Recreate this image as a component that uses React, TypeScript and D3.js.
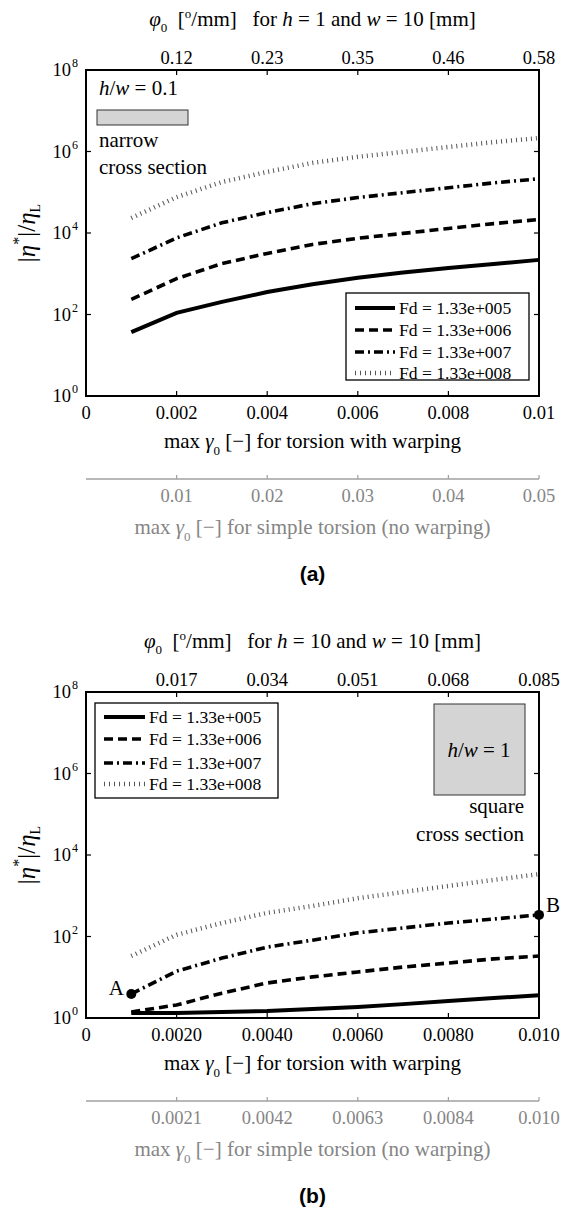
import React from "react";
import * as d3 from "d3";

// x positions of the data points (max gamma_0, torsion with warping)
const gammaPts = [0.001, 0.002, 0.003, 0.004, 0.005, 0.006, 0.007, 0.008, 0.009, 0.01];

// panel (a): h/w = 0.1
const fdA5 = [37, 110, 204, 355, 550, 794, 1070, 1380, 1740, 2190];
const fdA6 = [234, 759, 1780, 3160, 5250, 7410, 9770, 12900, 17000, 21400];
const fdA7 = [2340, 7590, 17800, 31600, 52500, 74100, 97700, 129000, 170000, 214000];
const fdA8 = [23400, 75900, 178000, 316000, 525000, 741000, 977000, 1290000, 1700000, 2140000];

// panel (b): h/w = 1
const fdB5 = [1.32, 1.32, 1.41, 1.48, 1.66, 1.86, 2.19, 2.63, 3.09, 3.63];
const fdB6 = [1.41, 2.09, 4.07, 7.24, 10.2, 13.5, 17.8, 22.4, 28.2, 33.1];
const fdB7 = [3.89, 14.1, 29.5, 55, 81.3, 123, 162, 214, 269, 339];
const fdB8 = [33.1, 110, 214, 380, 562, 871, 1230, 1740, 2450, 3390];

const legendNames = ["Fd = 1.33e+005", "Fd = 1.33e+006", "Fd = 1.33e+007", "Fd = 1.33e+008"];

const xTicks = [0, 0.002, 0.004, 0.006, 0.008, 0.01];
const xLabelsA = ["0", "0.002", "0.004", "0.006", "0.008", "0.01"];
const xLabelsB = ["0", "0.0020", "0.0040", "0.0060", "0.0080", "0.010"];
const phiLabelsA = ["0.12", "0.23", "0.35", "0.46", "0.58"];
const phiLabelsB = ["0.017", "0.034", "0.051", "0.068", "0.085"];
const simpleLabelsA = ["0.01", "0.02", "0.03", "0.04", "0.05"];
const simpleLabelsB = ["0.0021", "0.0042", "0.0063", "0.0084", "0.010"];
const yTicks = [1, 1e2, 1e4, 1e6, 1e8];

const FONT = "'Liberation Serif', 'Times New Roman', serif";
const GRAY = "#858585";
const TICK_FS = 18.5;
const LABEL_FS = 21;
const NB = "\u00a0";

const styles = [
  { stroke: "#000", width: 4, dash: null },
  { stroke: "#000", width: 3.6, dash: "9,5" },
  { stroke: "#000", width: 3.6, dash: "9,4,2,4" },
  { stroke: "#555", width: 4.5, dash: "1,4" },
];

const left = 86, right = 539;

function Panel({ top, series, xLabels, phiLabels, simpleLabels, hText, tag, variant }) {
  const bottom = top + 326;
  const x = d3.scaleLinear().domain([0, 0.01]).range([left, right]);
  const y = d3.scaleLog().domain([1, 1e8]).range([bottom, top]);
  const line = d3.line().x((d, i) => x(gammaPts[i])).y(d => y(d));
  const cx = (left + right) / 2;
  const cy = (top + bottom) / 2;

  const legend = variant === "a"
    ? { x0: 346, y0: 293, w: 183, h: 87, s0: 355, s1: 395, tx: 399 }
    : { x0: 95, y0: top + 11, w: 183, h: 95, s0: 104, s1: 145, tx: 149 };
  const entryY = variant === "a"
    ? [308, 330, 352, 373]
    : [717, 739, 763, 784].map(v => v - 692 + top);

  return (
    <g fontFamily={FONT}>
      {/* title with phi_0 */}
      <text x={cx} y={top - 44} textAnchor="middle" fontSize={LABEL_FS}>
        <tspan fontStyle="italic">φ</tspan>
        <tspan dy={6} fontSize={13}>0</tspan>
        <tspan dy={-6}>{NB + NB + "["}</tspan>
        <tspan dy={-8} fontSize={13}>o</tspan>
        <tspan dy={8}>{"/mm]" + NB + NB + NB + "for" + NB}</tspan>
        <tspan fontStyle="italic">h</tspan>
        <tspan>{`${NB}=${NB}${hText}${NB}and${NB}`}</tspan>
        <tspan fontStyle="italic">w</tspan>
        <tspan>{`${NB}=${NB}10${NB}[mm]`}</tspan>
      </text>

      {/* series */}
      {series.map((s, i) => (
        <path key={i} d={line(s)} fill="none" stroke={styles[i].stroke}
          strokeWidth={styles[i].width} strokeDasharray={styles[i].dash || undefined} />
      ))}

      {/* frame */}
      <rect x={left} y={top} width={right - left} height={bottom - top} fill="none" stroke="#000" strokeWidth={2} />

      {/* x ticks bottom + top */}
      {xTicks.map((t, i) => (
        <g key={"xt" + i}>
          <line x1={x(t)} x2={x(t)} y1={bottom} y2={bottom - 5} stroke="#000" strokeWidth={1.2} />
          <line x1={x(t)} x2={x(t)} y1={top} y2={top + 5} stroke="#000" strokeWidth={1.2} />
          <text x={x(t)} y={bottom + 23} textAnchor="middle" fontSize={TICK_FS}>{xLabels[i]}</text>
          {i > 0 && (
            <text x={x(t)} y={top - 6} textAnchor="middle" fontSize={TICK_FS}>{phiLabels[i - 1]}</text>
          )}
        </g>
      ))}

      {/* y ticks */}
      {yTicks.map((t, i) => (
        <g key={"yt" + i}>
          <line x1={left} x2={left + 5} y1={y(t)} y2={y(t)} stroke="#000" strokeWidth={1.2} />
          <line x1={right} x2={right - 5} y1={y(t)} y2={y(t)} stroke="#000" strokeWidth={1.2} />
          <text x={71} y={y(t) + 6} textAnchor="end" fontSize={TICK_FS}>10</text>
          <text x={72} y={y(t) - 3} fontSize={12}>{Math.round(Math.log10(t))}</text>
        </g>
      ))}

      {/* y label */}
      <text transform={`translate(35,${cy}) rotate(-90)`} textAnchor="middle" fontSize={25}>
        <tspan>|</tspan>
        <tspan fontStyle="italic">η</tspan>
        <tspan dy={-11} fontSize={16}>*</tspan>
        <tspan dy={11}>|/</tspan>
        <tspan fontStyle="italic">η</tspan>
        <tspan dy={5} fontSize={14}>L</tspan>
      </text>

      {/* x label */}
      <text x={cx} y={bottom + 52} textAnchor="middle" fontSize={LABEL_FS}>
        <tspan>max </tspan>
        <tspan fontStyle="italic">γ</tspan>
        <tspan dy={7} fontSize={13}>0</tspan>
        <tspan dy={-7}> [−] for torsion with warping</tspan>
      </text>

      {/* secondary gray axis */}
      <line x1={left} x2={right} y1={bottom + 83} y2={bottom + 83} stroke="#a0a0a0" strokeWidth={1.5} />
      {xTicks.slice(1).map((t, i) => (
        <g key={"gt" + i}>
          <line x1={x(t)} x2={x(t)} y1={bottom + 83} y2={bottom + 79} stroke="#a0a0a0" strokeWidth={1.2} />
          <text x={x(t)} y={bottom + 106} textAnchor="middle" fontSize={TICK_FS} fill={GRAY}>{simpleLabels[i]}</text>
        </g>
      ))}
      <text x={cx} y={bottom + 138} textAnchor="middle" fontSize={LABEL_FS} fill={GRAY}>
        <tspan>max </tspan>
        <tspan fontStyle="italic">γ</tspan>
        <tspan dy={7} fontSize={13}>0</tspan>
        <tspan dy={-7}> [−] for simple torsion (no warping)</tspan>
      </text>

      {/* panel tag */}
      <text x={cx} y={bottom + 185} textAnchor="middle" fontSize={21} fontWeight="bold"
        fontFamily="'Liberation Sans', Arial, sans-serif">{tag}</text>

      {/* legend */}
      <rect x={legend.x0} y={legend.y0} width={legend.w} height={legend.h} fill="#fff" stroke="#000" strokeWidth={1.3} />
      {legendNames.map((n, i) => (
        <g key={"lg" + i}>
          <line x1={legend.s0} x2={legend.s1} y1={entryY[i]} y2={entryY[i]} stroke={styles[i].stroke}
            strokeWidth={styles[i].width} strokeDasharray={styles[i].dash || undefined} />
          <text x={legend.tx} y={entryY[i] + 6} fontSize={17.6}>{n}</text>
        </g>
      ))}

      {variant === "a" ? (
        <g>
          <text x={99} y={95} fontSize={LABEL_FS}>
            <tspan fontStyle="italic">h</tspan><tspan>/</tspan><tspan fontStyle="italic">w</tspan><tspan> = 0.1</tspan>
          </text>
          <rect x={97} y={110} width={91} height={15} fill="#d4d4d4" stroke="#333" strokeWidth={1} />
          <text x={99} y={147} fontSize={LABEL_FS}>narrow</text>
          <text x={99} y={174} fontSize={LABEL_FS}>cross section</text>
        </g>
      ) : (
        <g>
          <rect x={434} y={704} width={91} height={91} fill="#d4d4d4" stroke="#333" strokeWidth={1} />
          <text x={479} y={757} textAnchor="middle" fontSize={LABEL_FS}>
            <tspan fontStyle="italic">h</tspan><tspan>/</tspan><tspan fontStyle="italic">w</tspan><tspan> = 1</tspan>
          </text>
          <text x={524} y={813} textAnchor="end" fontSize={LABEL_FS}>square</text>
          <text x={524} y={841} textAnchor="end" fontSize={LABEL_FS}>cross section</text>
          <circle cx={x(gammaPts[0])} cy={y(series[2][0])} r={5} fill="#000" />
          <circle cx={x(gammaPts[9])} cy={y(series[2][9])} r={5} fill="#000" />
          <text x={124} y={y(series[2][0]) + 1} textAnchor="end" fontSize={LABEL_FS}>A</text>
          <text x={546} y={y(series[2][9]) - 3} fontSize={LABEL_FS}>B</text>
        </g>
      )}
    </g>
  );
}

export default function App() {
  return (
    <svg width={563} height={1209} style={{ position: "absolute", left: 0, top: 0, background: "#fff" }}>
      <rect width={563} height={1209} fill="#fff" />
      <Panel top={70} series={[fdA5, fdA6, fdA7, fdA8]} xLabels={xLabelsA} phiLabels={phiLabelsA}
        simpleLabels={simpleLabelsA} hText="1" tag="(a)" variant="a" />
      <Panel top={692} series={[fdB5, fdB6, fdB7, fdB8]} xLabels={xLabelsB} phiLabels={phiLabelsB}
        simpleLabels={simpleLabelsB} hText="10" tag="(b)" variant="b" />
    </svg>
  );
}
